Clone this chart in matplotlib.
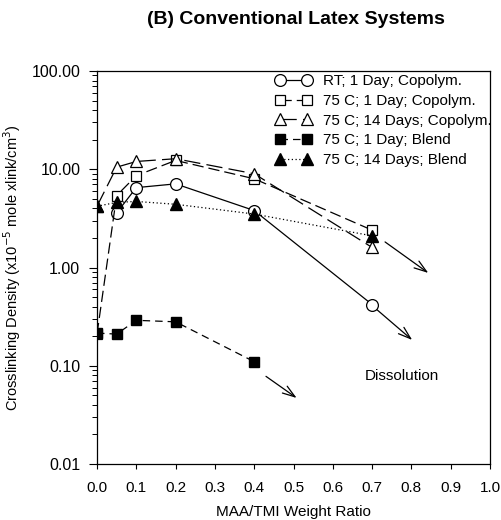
import matplotlib
matplotlib.use("Agg")
import matplotlib.pyplot as plt
from matplotlib.ticker import LogLocator, FixedLocator, NullFormatter

plt.rcParams['font.family'] = ['Liberation Sans', 'DejaVu Sans']

# MAA/TMI weight ratio and crosslinking density (x10^-5 mole xlink/cm^3)
x_rt_1d_cop = [0.05, 0.1, 0.2, 0.4, 0.7]
y_rt_1d_cop = [3.6, 6.5, 7.1, 3.8, 0.42]

x_75_1d_cop = [0.0, 0.05, 0.1, 0.2, 0.4, 0.7]
y_75_1d_cop = [0.21, 5.4, 8.6, 12.3, 8.0, 2.4]

x_75_14d_cop = [0.0, 0.05, 0.1, 0.2, 0.4, 0.7]
y_75_14d_cop = [4.2, 10.5, 12.0, 12.8, 9.0, 1.6]

x_75_1d_blend = [0.0, 0.05, 0.1, 0.2, 0.4]
y_75_1d_blend = [0.215, 0.21, 0.29, 0.28, 0.11]

x_75_14d_blend = [0.0, 0.05, 0.1, 0.2, 0.4, 0.7]
y_75_14d_blend = [4.2, 4.6, 4.7, 4.4, 3.5, 2.1]

labels = ["RT; 1 Day; Copolym.", "75 C; 1 Day; Copolym.",
          "75 C; 14 Days; Copolym.", "75 C; 1 Day; Blend",
          "75 C; 14 Days; Blend"]

# dissolution arrows: (x_start, y_start, x_end, y_end)
arrows = [(0.733, 1.82, 0.843, 0.88),
          (0.713, 0.37, 0.802, 0.183),
          (0.43, 0.078, 0.508, 0.047)]

x_ticks = [0.0, 0.1, 0.2, 0.3, 0.4, 0.5, 0.6, 0.7, 0.8, 0.9, 1.0]
y_ticks = [0.01, 0.1, 1, 10, 100]
y_ticklabels = ["0.01", "0.10", "1.00", "10.00", "100.00"]

fig = plt.figure(figsize=(5.01, 5.20), dpi=100)
ax = fig.add_axes([97 / 501, 1 - 464 / 520, 393 / 501, 393 / 520])

lw = 0.9
ax.plot(x_rt_1d_cop, y_rt_1d_cop, color='black', lw=lw, ls='-',
        marker='o', ms=8.5, mfc='white', mec='black', mew=0.9, label=labels[0])
ax.plot(x_75_1d_cop, y_75_1d_cop, color='black', lw=lw, ls=(0, (9, 4)),
        marker='s', ms=7.5, mfc='white', mec='black', mew=0.9, label=labels[1])
ax.plot(x_75_14d_cop, y_75_14d_cop, color='black', lw=lw, ls=(0, (13, 5)),
        marker='^', ms=8.5, mfc='white', mec='black', mew=0.9, label=labels[2])
ax.plot(x_75_1d_blend, y_75_1d_blend, color='black', lw=lw, ls=(0, (6, 4)),
        marker='s', ms=7.5, mfc='black', mec='black', label=labels[3])
ax.plot(x_75_14d_blend, y_75_14d_blend, color='black', lw=lw, ls=(0, (1, 2)),
        marker='^', ms=8.5, mfc='black', mec='black', label=labels[4])

for x0, y0, x1, y1 in arrows:
    ax.annotate("", xy=(x1, y1), xytext=(x0, y0),
                arrowprops=dict(arrowstyle='->,head_length=0.9,head_width=0.3',
                                color='black', lw=0.9, shrinkA=0, shrinkB=0))

ax.text(0.777, 0.079, "Dissolution", ha='center', va='center', fontsize=11)

ax.set_yscale('log')
ax.set_xlim(0.0, 1.0)
ax.set_ylim(0.01, 100)
ax.xaxis.set_major_locator(FixedLocator(x_ticks))
ax.set_xticklabels([f"{t:.1f}" for t in x_ticks])
ax.yaxis.set_major_locator(FixedLocator(y_ticks))
ax.set_yticklabels(y_ticklabels)
ax.yaxis.set_minor_locator(LogLocator(base=10, subs=range(2, 10)))
ax.yaxis.set_minor_formatter(NullFormatter())

ax.tick_params(axis='x', which='major', direction='out', length=3.6, width=0.8,
               pad=9, labelsize=11)
ax.tick_params(axis='y', which='major', direction='out', length=6, width=0.8,
               pad=6, labelsize=11.5)
ax.tick_params(axis='y', which='minor', direction='out', length=3.6, width=0.7)
for s in ax.spines.values():
    s.set_linewidth(0.9)

ax.set_xlabel("MAA/TMI Weight Ratio", fontsize=11)
ax.set_ylabel("Crosslinking Density (x10$^{-5}$ mole xlink/cm$^{3}$)",
              fontsize=10.5)
ax.xaxis.set_label_coords(0.5, (464 - 505) / 393)
ax.yaxis.set_label_coords((23 - 97) / 393, 0.5)

ax.legend(loc='upper left', bbox_to_anchor=(0.446, 1.0), frameon=False,
          fontsize=11, numpoints=2, handlelength=2.36, handletextpad=0.75,
          labelspacing=0.38, borderpad=0.2, borderaxespad=0.0)

fig.text(0.59, 0.962, "(B) Conventional Latex Systems", ha='center',
         va='center', fontsize=14, fontweight='bold')

fig.savefig("out.png", dpi=100)
